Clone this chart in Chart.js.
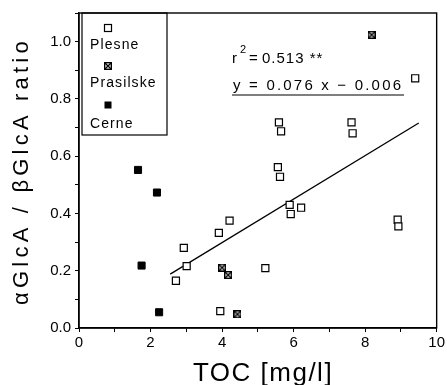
<!DOCTYPE html>
<html>
<head>
<meta charset="utf-8">
<script src="https://cdn.jsdelivr.net/npm/chart.js@4/dist/chart.umd.min.js"></script>
<style>
  html, body { margin: 0; padding: 0; background: #fff; }
  #wrap { width: 447px; height: 385px; position: relative; }
</style>
</head>
<body>
<div id="wrap"><canvas id="chart"></canvas></div>
<script>
// --- data ---
const plesneX = [2.71, 2.93, 3.01, 3.91, 3.95, 4.21, 5.21, 5.59, 5.65, 5.56, 5.62, 5.89, 5.92, 6.21, 7.62, 7.65, 8.91, 8.93, 9.40];
const plesneY = [0.165, 0.280, 0.216, 0.332, 0.059, 0.375, 0.209, 0.718, 0.687, 0.562, 0.528, 0.430, 0.398, 0.420, 0.718, 0.680, 0.378, 0.355, 0.872];
const prasilskeX = [4.00, 4.17, 4.43, 8.18];
const prasilskeY = [0.211, 0.185, 0.048, 1.024];
const cerneX = [1.65, 1.75, 2.18, 2.24];
const cerneY = [0.552, 0.218, 0.473, 0.055];
// regression line end points (as drawn)
const fitX = [2.55, 9.5];
const fitY = [0.188, 0.716];

const seriesNames = ['Plesne', 'Prasilske', 'Cerne'];
const xTitle = 'TOC [mg/l]';
const yTitle = 'αGlcA / βGlcA ratio';
const r2Text = '0.513 **';
const eqText = 'y = 0.076 x − 0.006';

const FONT = "'Liberation Sans', Arial, sans-serif";

function pts(xs, ys) { return xs.map((x, i) => ({ x: x, y: ys[i] })); }

// crossed square marker for Prasilske
function crossedSquare(size) {
  const c = document.createElement('canvas');
  c.width = size; c.height = size;
  const g = c.getContext('2d');
  g.strokeStyle = '#000';
  g.lineWidth = 1.4;
  g.strokeRect(0.7, 0.7, size - 1.4, size - 1.4);
  g.beginPath();
  g.moveTo(1, 1); g.lineTo(size - 1, size - 1);
  g.moveTo(size - 1, 1); g.lineTo(1, size - 1);
  g.stroke();
  return c;
}
const crossImg = crossedSquare(8);

// ─── texts, legend box and frame ───
const decorPlugin = {
  id: 'decor',
  afterDraw(chart) {
    const ctx = chart.ctx;
    const a = chart.chartArea;
    ctx.save();
    ctx.strokeStyle = '#000';
    ctx.lineWidth = 1.4;
    ctx.strokeRect(a.left, a.top, a.right - a.left, a.bottom - a.top);

    ctx.fillStyle = '#000';
    // y title
    ctx.save();
    ctx.translate(22, 171);
    ctx.rotate(-Math.PI / 2);
    ctx.font = '22px ' + FONT;
    ctx.letterSpacing = '4.2px';
    ctx.textAlign = 'center';
    ctx.textBaseline = 'middle';
    ctx.fillText(yTitle, 0, 0);
    ctx.restore();

    // x title
    ctx.font = '26px ' + FONT;
    ctx.letterSpacing = '1.5px';
    ctx.textAlign = 'center';
    ctx.textBaseline = 'alphabetic';
    ctx.fillText(xTitle, 263, 381);

    // legend box
    ctx.lineWidth = 1.2;
    ctx.strokeRect(82, 13, 85, 122);
    ctx.font = '14px ' + FONT;
    ctx.letterSpacing = '1.1px';
    ctx.textAlign = 'left';
    ctx.textBaseline = 'middle';
    ctx.fillStyle = '#fff';
    ctx.fillRect(104.5, 24.5, 7, 7);
    ctx.strokeRect(104.5, 24.5, 7, 7);
    ctx.drawImage(crossImg, 104, 62);
    ctx.fillStyle = '#000';
    ctx.fillRect(104.5, 101.5, 7, 7);
    ctx.fillText(seriesNames[0], 90, 45);
    ctx.fillText(seriesNames[1], 90, 83);
    ctx.fillText(seriesNames[2], 90, 124);

    // regression annotation
    ctx.textBaseline = 'alphabetic';
    ctx.font = '15px ' + FONT;
    ctx.letterSpacing = '0px';
    ctx.fillText('r', 232, 63);
    ctx.font = '11px ' + FONT;
    ctx.fillText('2', 240, 53);
    ctx.font = '15px ' + FONT;
    ctx.letterSpacing = '1px';
    ctx.fillText('=', 249, 63);
    ctx.fillText(r2Text, 262, 63);
    ctx.letterSpacing = '2.2px';
    ctx.fillText(eqText, 233, 90);
    ctx.lineWidth = 1.2;
    ctx.beginPath();
    ctx.moveTo(232, 95);
    ctx.lineTo(404, 95);
    ctx.stroke();
    ctx.restore();
  }
};

const ctx = document.getElementById('chart').getContext('2d');
new Chart(ctx, {
  type: 'scatter',
  data: {
    datasets: [
      {
        label: 'fit',
        data: pts(fitX, fitY),
        showLine: true,
        borderColor: '#000',
        borderWidth: 1.3,
        pointRadius: 0,
        order: 10
      },
      {
        label: seriesNames[0],
        data: pts(plesneX, plesneY),
        pointStyle: 'rect',
        pointRadius: 5,
        pointBackgroundColor: '#fff',
        pointBorderColor: '#000',
        pointBorderWidth: 1.2,
        order: 3
      },
      {
        label: seriesNames[1],
        data: pts(prasilskeX, prasilskeY),
        pointStyle: crossImg,
        pointRadius: 4,
        order: 2
      },
      {
        label: seriesNames[2],
        data: pts(cerneX, cerneY),
        pointStyle: 'rect',
        pointRadius: 5,
        pointBackgroundColor: '#000',
        pointBorderColor: '#000',
        pointBorderWidth: 1,
        order: 1
      }
    ]
  },
  options: {
    responsive: true,
    maintainAspectRatio: false,
    animation: false,
    layout: { padding: { top: 9, right: 7, left: 0, bottom: 0 } },
    plugins: {
      legend: { display: false },
      tooltip: { enabled: false }
    },
    scales: {
      x: {
        type: 'linear',
        min: 0,
        max: 10,
        afterFit(scale) { scale.height = 57; },
        grid: { drawOnChartArea: false, drawTicks: true, tickLength: 4, color: '#000', lineWidth: 1 },
        border: { display: true, color: '#000', width: 1.4 },
        ticks: {
          stepSize: 1,
          color: '#000',
          padding: 2,
          maxRotation: 0,
          autoSkip: false,
          font: { family: FONT, size: 15 },
          callback: v => (Math.round(v) % 2 === 0 ? String(Math.round(v)) : '')
        }
      },
      y: {
        min: 0,
        max: 1.1,
        afterFit(scale) { scale.width = 79; },
        grid: { drawOnChartArea: false, drawTicks: true, tickLength: 4, color: '#000', lineWidth: 1 },
        border: { display: true, color: '#000', width: 1.4 },
        ticks: {
          stepSize: 0.1,
          color: '#000',
          padding: 4,
          autoSkip: false,
          font: { family: FONT, size: 15 },
          callback: v => {
            const k = Math.round(v * 10);
            return (k % 2 === 0 && k <= 10) ? (k / 10).toFixed(1) : '';
          }
        }
      }
    }
  },
  plugins: [decorPlugin]
});
</script>
</body>
</html>
